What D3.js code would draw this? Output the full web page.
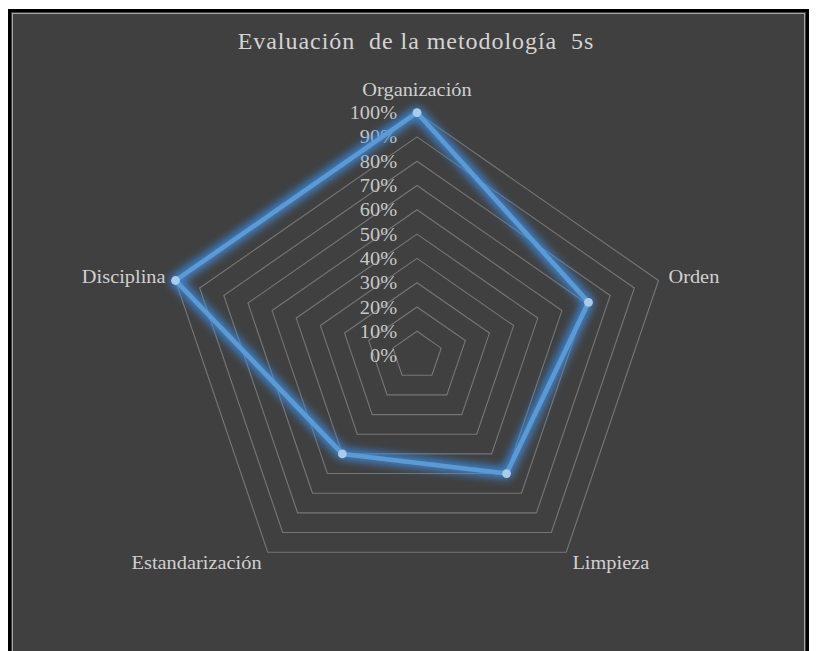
<!DOCTYPE html>
<html>
<head>
<meta charset="utf-8">
<script src="https://cdn.jsdelivr.net/npm/d3@7/dist/d3.min.js"></script>
<style>
  html, body { margin: 0; padding: 0; background: #ffffff; }
  svg { display: block; }
</style>
</head>
<body>
<svg id="chart" width="816" height="651" font-family="'Liberation Serif', 'Times New Roman', Times, serif"></svg>
<script>
// Categories (clockwise from the top) and evaluation scores
const categories = ["Organización", "Orden", "Limpieza", "Estandarización", "Disciplina"];
const scores = [1.00, 0.71, 0.60, 0.50, 1.00];
const tickValues = [0, 0.1, 0.2, 0.3, 0.4, 0.5, 0.6, 0.7, 0.8, 0.9, 1.0];
const chartTitle = "Evaluación  de la metodología  5s";

const cx = 417, cy = 355.6, R = 243, stretchX = 1.045;
const serif = "'Liberation Serif', 'Times New Roman', Times, serif";

const svg = d3.select("#chart");

// Chart frame: black outline, thin light inner edge, dark plot fill
svg.append("rect").attr("x", 9.5).attr("y", 10.5).attr("width", 798).attr("height", 660)
  .attr("fill", "#404040").attr("stroke", "#000").attr("stroke-width", 3);
svg.append("rect").attr("x", 12.5).attr("y", 13.5).attr("width", 792).attr("height", 660)
  .attr("fill", "none").attr("stroke", "#a6a6a6").attr("stroke-width", 1);

// Glow filter for the series line
const defs = svg.append("defs");
const glow = defs.append("filter").attr("id", "glow")
  .attr("x", "-20%").attr("y", "-20%").attr("width", "140%").attr("height", "140%");
glow.append("feGaussianBlur").attr("stdDeviation", 4);

// Title
svg.append("g").attr("transform", `translate(416,49) scale(${stretchX},1)`)
  .append("text")
  .attr("text-anchor", "middle")
  .attr("fill", "#d4d4d4")
  .attr("font-family", serif)
  .attr("font-size", 23)
  .attr("letter-spacing", 0.9)
  .style("white-space", "pre")
  .text(chartTitle);

const g = svg.append("g").attr("transform", `translate(${cx},${cy}) scale(${stretchX},1)`);

const r = d3.scaleLinear().domain([0, 1]).range([0, R]);
const angle = d3.scalePoint().domain(categories).range([0, 2 * Math.PI * (categories.length - 1) / categories.length]);

const radial = d3.lineRadial()
  .angle((d, i) => angle(categories[i]))
  .radius(d => r(d))
  .curve(d3.curveLinearClosed);

// Concentric grid pentagons
g.append("g").selectAll("path")
  .data(tickValues.filter(t => t > 0))
  .join("path")
  .attr("d", t => radial(categories.map(() => t)))
  .attr("fill", "none")
  .attr("stroke", "#757575")
  .attr("stroke-width", 1.1);

// Percentage tick labels along the top axis
g.append("g").selectAll("text")
  .data(tickValues)
  .join("text")
  .attr("x", -19)
  .attr("y", t => -r(t) + 6.5)
  .attr("text-anchor", "end")
  .attr("fill", "#c8c8c8")
  .attr("font-family", serif)
  .attr("font-size", 19.5)
  .text(d3.format(".0%"));

// Category labels around the outside
const pad = 10;
g.append("g").selectAll("text")
  .data(categories)
  .join("text")
  .each(function (c) {
    const a = angle(c);
    const s = Math.sin(a), k = Math.cos(a);
    const x = (R + pad) * s;
    const y = -(R + pad) * k;
    let anchor = "middle", dy = 6;
    if (s > 0.1) anchor = "start";
    else if (s < -0.1) anchor = "end";
    if (k > 0.9) dy = -7;
    else if (k < -0.5) dy = 9;
    d3.select(this)
      .attr("x", x).attr("y", y + dy)
      .attr("text-anchor", anchor);
  })
  .attr("fill", "#d0d0d0")
  .attr("font-family", serif)
  .attr("font-size", 19.5)
  .text(d => d);

// Series: soft glow underneath, then the line and markers
const pts = scores.map((v, i) => {
  const a = angle(categories[i]);
  return [r(v) * Math.sin(a), -r(v) * Math.cos(a)];
});

g.append("path")
  .attr("d", radial(scores))
  .attr("fill", "none")
  .attr("stroke", "#3f8fe6")
  .attr("stroke-width", 11)
  .attr("stroke-linejoin", "round")
  .attr("opacity", 0.85)
  .attr("filter", "url(#glow)");

g.append("path")
  .attr("d", radial(scores))
  .attr("fill", "none")
  .attr("stroke", "#5b9bd5")
  .attr("stroke-width", 4.5)
  .attr("stroke-linejoin", "round");

g.append("g").selectAll("ellipse")
  .data(pts)
  .join("ellipse")
  .attr("cx", d => d[0])
  .attr("cy", d => d[1])
  .attr("rx", 4.4 / stretchX)
  .attr("ry", 4.4)
  .attr("fill", "#a9cbec");
</script>
</body>
</html>
